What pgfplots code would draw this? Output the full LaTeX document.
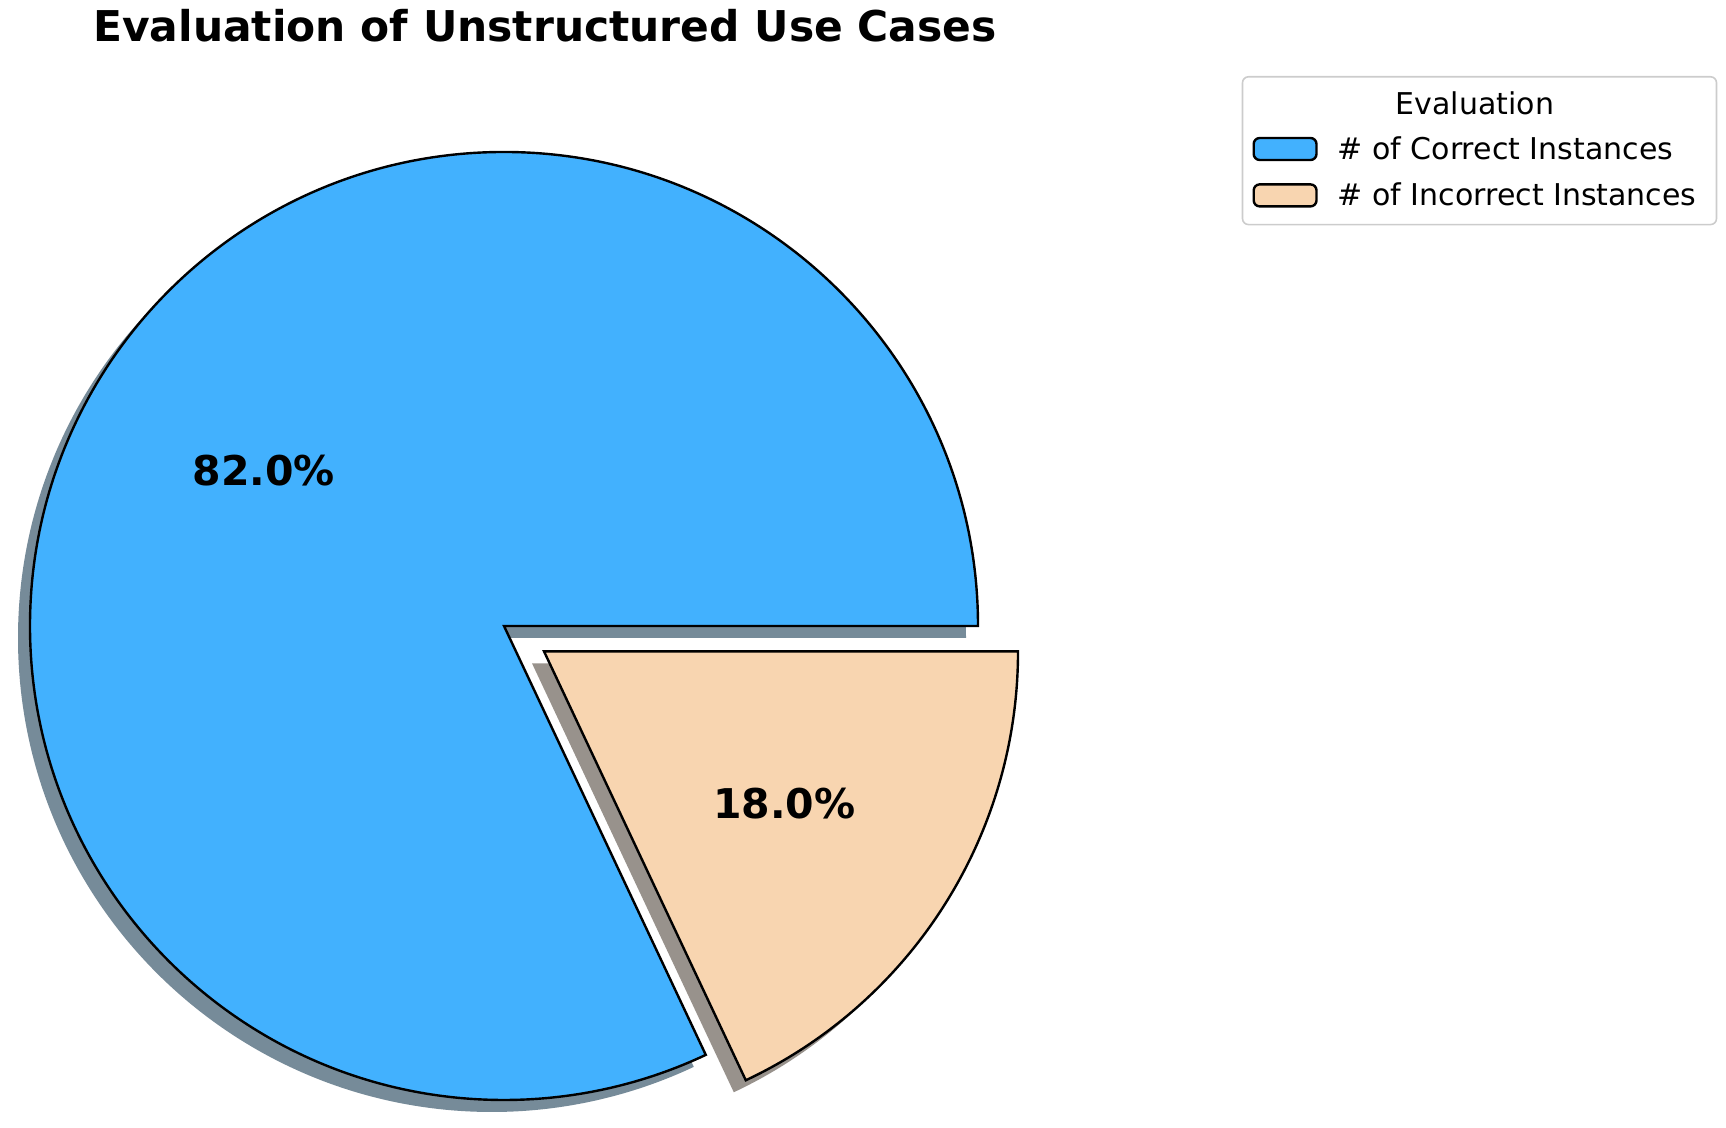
\documentclass[border=0pt]{standalone}
\usepackage{pgfplots}
\usepackage{pgfplotstable}
\pgfplotsset{compat=1.18}
\usepackage{fontspec}
\setmainfont{DejaVu Sans}

\definecolor{correct}{RGB}{66,177,254}
\definecolor{incorrect}{RGB}{248,213,176}
\definecolor{shadowA}{RGB}{118,139,153}
\definecolor{shadowB}{RGB}{152,146,140}

% evaluation counts (shares in percent)
\pgfplotstableread{
label value
Correct 82
Incorrect 18
}\evaldata

\begin{document}
\begin{tikzpicture}
\pgfplotstablegetelem{0}{value}\of\evaldata \let\va\pgfplotsretval
\pgfplotstablegetelem{1}{value}\of\evaldata \let\vb\pgfplotsretval
\pgfmathsetmacro{\fracA}{\va/(\va+\vb)}
\pgfmathsetmacro{\angA}{360*\fracA}
\pgfmathsetmacro{\midA}{\angA/2}
\pgfmathsetmacro{\midB}{(\angA+360)/2}
\pgfmathsetmacro{\pctA}{100*\fracA}
\pgfmathsetmacro{\pctB}{100-\pctA}
% pie centre, radius (axis units = px, 1 unit = 0.5pt)
\def\cx{504}\def\cy{502}\def\R{237pt}
\pgfmathsetmacro{\ex}{\cx+47.4*cos(\midB)}
\pgfmathsetmacro{\ey}{\cy+47.4*sin(\midB)}
\pgfmathsetmacro{\sax}{\cx-12}\pgfmathsetmacro{\say}{\cy-12}
\pgfmathsetmacro{\sbx}{\ex-12}\pgfmathsetmacro{\sby}{\ey-12}
\pgfmathsetmacro{\lax}{\cx+284.4*cos(\midA)}
\pgfmathsetmacro{\lay}{\cy+284.4*sin(\midA)+3}
\pgfmathsetmacro{\lbx}{\ex+284.4*cos(\midB)}
\pgfmathsetmacro{\lby}{\ey+284.4*sin(\midB)}
\begin{axis}[
  width=863pt, height=564pt, scale only axis,
  xmin=0, xmax=1726, ymin=0, ymax=1128,
  hide axis, clip=false,
  legend image code/.code={\draw[#1, line width=1.2pt] (0pt,-5.5pt) rectangle (31.4pt,5.5pt);},
  legend style={at={(axis cs:1241.7,1052)}, anchor=north west,
    draw=black!20, line width=0.8pt, rounded corners=3pt,
    inner xsep=5pt, inner ysep=8.5pt,
    font=\fontsize{15}{18}\selectfont,
    nodes={inner sep=0pt, text height=10.5pt, text depth=0pt},
    column sep=10pt, row sep=11pt},
  legend cell align=left,
]
\path (axis cs:0,0) rectangle (axis cs:1726,1128);
% shadows
\fill[shadowA] (axis cs:\sax,\say) -- ++(0:\R) arc[start angle=0, end angle=\angA, radius=\R] -- cycle;
\fill[shadowB] (axis cs:\sbx,\sby) -- ++(\angA:\R) arc[start angle=\angA, end angle=360, radius=\R] -- cycle;
% wedges
\filldraw[fill=correct, draw=black, line width=1.2pt, line join=miter]
  (axis cs:\cx,\cy) -- ++(0:\R) arc[start angle=0, end angle=\angA, radius=\R] -- cycle;
\filldraw[fill=incorrect, draw=black, line width=1.2pt, line join=miter]
  (axis cs:\ex,\ey) -- ++(\angA:\R) arc[start angle=\angA, end angle=360, radius=\R] -- cycle;
% percentage labels
\node[font=\fontsize{20.5}{24}\selectfont\bfseries] at (axis cs:\lax,\lay)
  {\pgfmathprintnumber[fixed, fixed zerofill, precision=1, assume math mode=true]{\pctA}\%};
\node[font=\fontsize{20.5}{24}\selectfont\bfseries] at (axis cs:\lbx,\lby)
  {\pgfmathprintnumber[fixed, fixed zerofill, precision=1, assume math mode=true]{\pctB}\%};
% title
\node[anchor=base, font=\fontsize{21.2}{25}\selectfont\bfseries] at (axis cs:545,1086)
  {Evaluation of Unstructured Use Cases};
\addlegendimage{empty legend}
\addlegendentry{\hspace*{29pt}Evaluation}
\addlegendimage{fill=correct, draw=black}
\addlegendentry{\# of Correct Instances}
\addlegendimage{fill=incorrect, draw=black}
\addlegendentry{\# of Incorrect Instances\hspace*{5pt}}
\end{axis}
\end{tikzpicture}
\end{document}
